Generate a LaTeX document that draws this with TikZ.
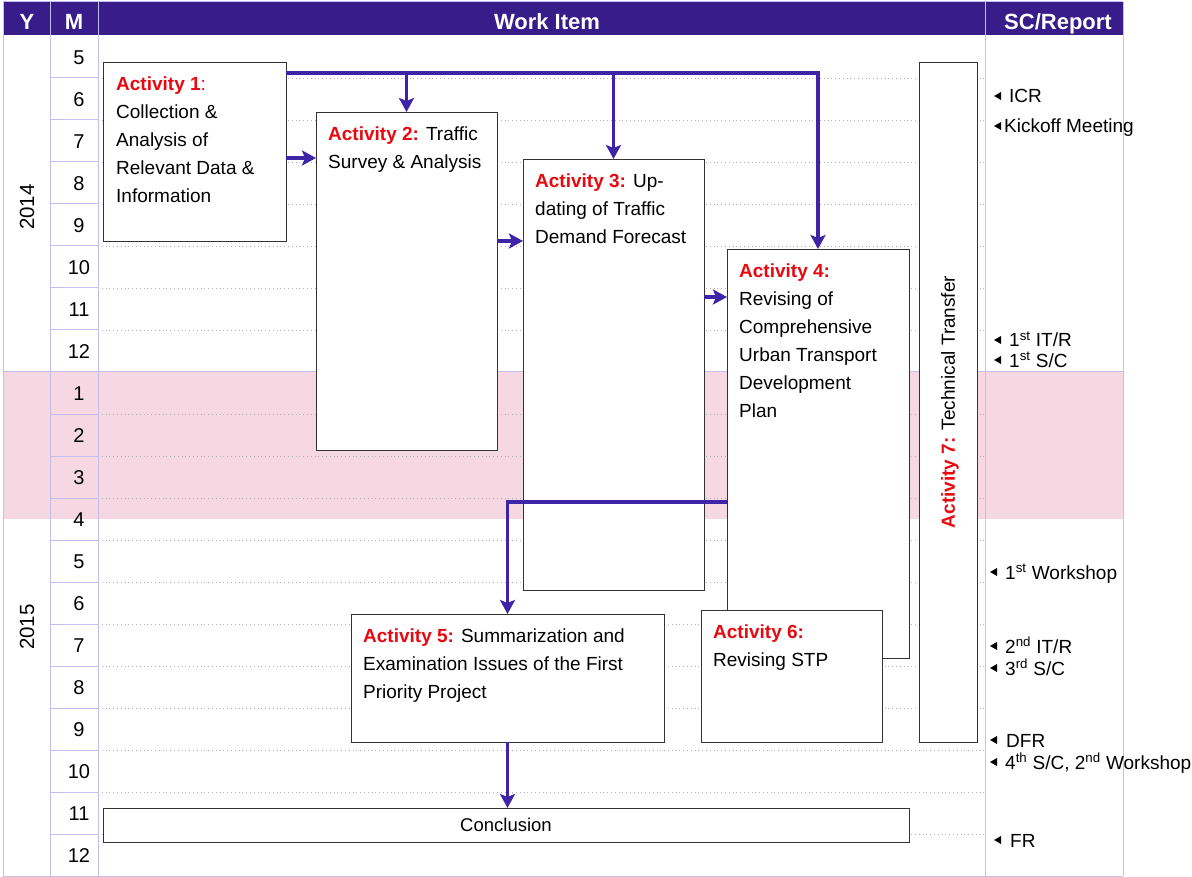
\documentclass[tikz,border=0pt]{standalone}
\usepackage{fontspec}
\setmainfont{Liberation Sans}
\usetikzlibrary{arrows.meta, positioning}
\definecolor{hdrpurple}{RGB}{56, 28, 138}
\definecolor{flowpurple}{RGB}{62, 36, 166}
\definecolor{gridlav}{RGB}{196, 190, 238}
\definecolor{bandpink}{RGB}{246, 216, 227}
\definecolor{actred}{RGB}{232, 8, 16}
\newcommand{\boxfont}{\fontsize{19}{28}\selectfont}
\newcommand{\actlbl}[1]{\textcolor{actred}{\bfseries #1}}

\begin{document}
\begin{tikzpicture}[x=1pt, y=-1pt,
  actbox/.style={rectangle, draw=black!80, fill=white, line width=0.9pt, anchor=north west, inner sep=0pt, outer sep=0pt},
  acttext/.style={anchor=north west, inner sep=0pt, align=left, font=\boxfont},
  hdrtext/.style={anchor=base, text=white, font=\fontsize{22}{26}\selectfont\bfseries, inner sep=0pt},
  monthnum/.style={anchor=base, font=\fontsize{20}{24}\selectfont, inner sep=0pt},
  yearnum/.style={font=\fontsize{20.5}{24}\selectfont, rotate=90, inner sep=0pt},
  sclabel/.style={anchor=base west, inner sep=0pt, font=\boxfont},
  gridline/.style={draw=gridlav, line width=1pt},
  rowdots/.style={draw=black!30, line width=0.8pt, dash pattern=on 0.8pt off 3pt},
  flow/.style={-{Stealth[length=14pt, width=15pt, inset=3pt]}, line width=3.8pt, draw=flowpurple}
]
\useasboundingbox (0,0) rectangle (1192,877);

% year band and header bar
\fill[bandpink] (3,372) rectangle (1123,519);
\fill[hdrpurple] (3,2) rectangle (1123,35);

% month rows
\foreach \k in {1,...,19} {
  \ifnum\k=8\else
    \draw[gridline] (50,{36+42*\k}) -- (98,{36+42*\k});
    \draw[rowdots] (98,{36+42*\k}) -- (985,{36+42*\k});
  \fi
}
\draw[gridline] (3,372) -- (1123,372);
\foreach \x in {3,50,98,985,1123}
  \draw[gridline] (\x,2) -- (\x,876);
\draw[gridline] (3,2) -- (1123,2);
\draw[gridline] (3,876) -- (1123,876);

% header
\node[hdrtext] (hdrY) at (27,30) {Y};
\node[hdrtext] (hdrM) at (74,30) {M};
\node[hdrtext] (hdrWork) at (547,30) {Work Item};
\node[hdrtext] (hdrSC) at (1058,30) {SC/Report};

% months and years
\foreach \m [count=\i from 0] in {5,6,7,8,9,10,11,12,1,2,3,4,5,6,7,8,9,10,11,12}
  \node[monthnum] (m\i) at (79,{64.5+42*\i}) {\m};
\node[yearnum] (y2014) at (27,207) {2014};
\node[yearnum] (y2015) at (27,627) {2015};

% activities
\node[actbox, minimum width=183pt, minimum height=179pt] (a1) at (103,62) {};
\node[acttext] (a1t) at ([shift={(13,14.5)}]a1.north west) {\actlbl{Activity 1}\textcolor{actred}{:}\\Collection \&\\Analysis of\\Relevant Data \&\\Information};

\node[actbox, minimum width=181pt, minimum height=338pt] (a2) at (316,112) {};
\node[acttext] (a2t) at ([shift={(12,14.5)}]a2.north west) {\actlbl{Activity 2:} Traffic\\Survey \& Analysis};

\node[actbox, minimum width=181pt, minimum height=431pt] (a3) at (523,159) {};
\node[acttext] (a3t) at ([shift={(12,14.5)}]a3.north west) {\actlbl{Activity 3:} Up-\\dating of Traffic\\Demand Forecast};

\node[actbox, minimum width=182pt, minimum height=409pt] (a4) at (727,249) {};
\node[acttext] (a4t) at ([shift={(12,15)}]a4.north west) {\actlbl{Activity 4:}\\Revising of\\Comprehensive\\Urban Transport\\Development\\Plan};

\node[actbox, minimum width=181pt, minimum height=132pt] (a6) at (701,610) {};
\node[acttext] (a6t) at ([shift={(12,15)}]a6.north west) {\actlbl{Activity 6:}\\Revising STP};

\node[actbox, minimum width=313pt, minimum height=128pt] (a5) at (351,614) {};
\node[acttext] (a5t) at ([shift={(12,14.5)}]a5.north west) {\actlbl{Activity 5:} Summarization and\\Examination Issues of the First\\Priority Project};

\node[actbox, minimum width=58pt, minimum height=680pt] (a7) at (919,62) {};
\node[font=\boxfont, rotate=90, inner sep=0pt] (a7t) at ([xshift=2pt]a7.center) {\actlbl{Activity 7:} Technical Transfer};

\node[actbox, minimum width=806pt, minimum height=34pt, font=\fontsize{18.5}{22}\selectfont] (concl) at (103,808) {Conclusion};

% flow arrows
\coordinate (busL) at ([yshift=-11pt]a1.north east);
\draw[flow] (busL) -| (a4.north);
\draw[flow] (busL -| a2.north) -- (a2.north);
\draw[flow] (busL -| a3.north) -- (a3.north);
\draw[flow] ([yshift=-6.5pt]a1.east) -- ([yshift=-6.5pt]a1.east -| a2.west);
\draw[flow] ([yshift=-129pt]a2.north east) -- ([yshift=-129pt]a2.north east -| a3.west);
\draw[flow] ([yshift=-138pt]a3.north east) -- ([yshift=-138pt]a3.north east -| a4.west);
\draw[flow] ([yshift=-253pt]a4.north west) -| (a5.north);
\draw[flow] (a5.south) -- (a5.south |- concl.north);

% SC / report marks
\foreach \tx/\lx/\ly/\lbl [count=\n] in {
    994/1009/96/{ICR},
    994/1004/126/{Kickoff Meeting},
    994/1009/340/{1\textsuperscript{st} IT/R},
    994/1009/360/{1\textsuperscript{st} S/C},
    990/1005/572/{1\textsuperscript{st} Workshop},
    990/1005/646/{2\textsuperscript{nd} IT/R},
    990/1005/668/{3\textsuperscript{rd} S/C},
    990/1006/740/{DFR},
    990/1005/762/{4\textsuperscript{th} S/C, 2\textsuperscript{nd} Workshop},
    994/1010/840/{FR}} {
  \fill (\tx,\ly) -- (\tx+7,\ly-4) -- (\tx+7,\ly+4) -- cycle;
  \node[sclabel] (sc\n) at (\lx,\ly+7) {\lbl};
}
\end{tikzpicture}
\end{document}
